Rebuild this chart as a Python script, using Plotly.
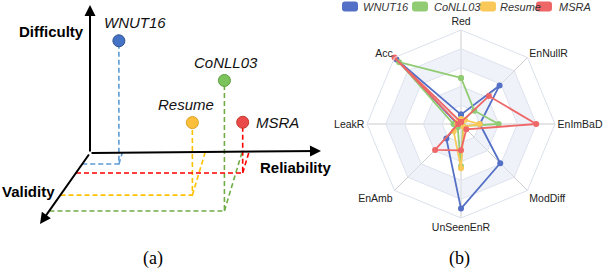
import plotly.graph_objects as go

# ---------------- data ----------------
datasets = ["WNUT16", "CoNLL03", "Resume", "MSRA"]

# panel (a): normalised scores along the three drawn axes
reliability = [0.14, 0.66, 0.50, 0.69]
validity = [0.16, 0.84, 0.61, 0.29]
difficulty = [0.85, 0.90, 0.50, 0.35]

# panel (b): radar metrics
categories = ["Red", "EnNullR", "EnImBaD", "ModDiff", "UnSeenEnR", "EnAmb", "LeakR", "Acc"]
wnut16 = [0.10, 0.58, 0.20, 0.59, 0.90, 0.22, 0.04, 0.97]
conll03 = [0.49, 0.20, 0.40, 0.03, 0.45, 0.05, 0.08, 0.93]
resume = [0.05, 0.06, 0.20, 0.04, 0.47, 0.11, 0.04, 0.04]
msra = [0.02, 0.42, 0.80, 0.08, 0.28, 0.39, 0.03, 1.00]
radar_values = [wnut16, conll03, resume, msra]

# ---------------- styles ----------------
W, H = 610, 272
FONT = "Liberation Sans, Arial, sans-serif"
radar_colors = ["#5470c6", "#91cc75", "#fac858", "#ee6666"]
dash_colors = ["#5b9bd5", "#70ad47", "#ffc000", "#ff0000"]
dot_fill = ["#4472c4", "#7dc35b", "#fbbf3c", "#ea4a4a"]
dot_edge = ["#2f528f", "#5c9e3f", "#d9a01f", "#c0392b"]

# projection of panel (a) (pixel canvas)
OX, OY = 90, 153
LR, LV, LD = 230, 69, 145
SHEAR, VAX = 0.3, 0.7

fig = go.Figure()

# ---------------- panel (a) ----------------
label_pos = [  # (dx, dy, xanchor)
    (16, -18, "center"),
    (2, -18, "center"),
    (-6, -18, "center"),
    (11, 0, "left"),
]
for i, name in enumerate(datasets):
    R, V, D = reliability[i], validity[i], difficulty[i]
    fx = OX + R * LR - SHEAR * V * LV
    fy = OY + V * LV
    py = fy - D * LD
    vx = OX - VAX * V * LV
    rx = OX + R * LR
    fig.add_trace(go.Scatter(
        x=[vx, fx, fx, None, fx, rx], y=[fy, fy, py, None, fy, OY],
        mode="lines", line=dict(color=dash_colors[i], width=1.6, dash="5px,3px"),
        showlegend=False, hoverinfo="skip"))
    fig.add_trace(go.Scatter(
        x=[fx], y=[py], mode="markers",
        marker=dict(size=12, color=dot_fill[i], line=dict(color=dot_edge[i], width=1)),
        showlegend=False, hoverinfo="skip"))
    dx, dy, xa = label_pos[i]
    fig.add_annotation(x=fx + dx, y=py + dy, text=name, showarrow=False,
                       xanchor=xa, yanchor="middle",
                       font=dict(family=FONT, size=15, color="#111", style="italic"),
                       xref="x", yref="y")

# axes of panel (a) as arrows
for (tx, ty) in [(OX, 5), (321, 151), (40, 224)]:
    fig.add_annotation(x=tx, y=ty, ax=OX, ay=OY, xref="x", yref="y", axref="x", ayref="y",
                       text="", showarrow=True, arrowhead=2, arrowsize=1.1,
                       arrowwidth=2, arrowcolor="#000")
for txt, x, y, xa in [("Difficulty", 17, 31, "left"), ("Reliability", 258, 167, "left"),
                      ("Validity", 0, 191, "left")]:
    fig.add_annotation(x=x, y=y, text="<b>" + txt + "</b>", showarrow=False, xanchor=xa,
                       yanchor="middle", font=dict(family=FONT, size=15, color="#000"))

for txt, x in [("(a)", 153), ("(b)", 459.5)]:
    fig.add_annotation(x=x, y=258, text=txt, showarrow=False, xanchor="center", yanchor="middle",
                       font=dict(family="Liberation Serif, Times New Roman, serif", size=18, color="#000"))

# ---------------- legend of panel (b) ----------------
leg_rect_x = [342, 412, 480, 536]
leg_text_x = [361, 432, 498, 557]
for i, name in enumerate(datasets):
    x0, x1, y0, y1, r = leg_rect_x[i], leg_rect_x[i] + 16, 1.5, 11.5, 3
    path = (f"M{x0+r},{y0} L{x1-r},{y0} Q{x1},{y0} {x1},{y0+r} L{x1},{y1-r} Q{x1},{y1} {x1-r},{y1} "
            f"L{x0+r},{y1} Q{x0},{y1} {x0},{y1-r} L{x0},{y0+r} Q{x0},{y0} {x0+r},{y0} Z")
    fig.add_shape(type="path", path=path, xref="x", yref="y",
                  fillcolor=radar_colors[i], line=dict(width=0))
    fig.add_annotation(x=leg_text_x[i], y=6.8, text=name, showarrow=False, xanchor="left",
                       yanchor="middle", font=dict(family=FONT, size=11, color="#333", style="italic"))

# ---------------- panel (b) radar ----------------
theta_closed = categories + [categories[0]]
levels = [0.2, 0.4, 0.6, 0.8, 1.0]
for lo, hi in [(0.2, 0.4), (0.6, 0.8)]:
    fig.add_trace(go.Scatterpolar(
        r=[hi] * len(theta_closed) + [lo] * len(theta_closed),
        theta=theta_closed + theta_closed[::-1],
        mode="lines", fill="toself", fillcolor="rgba(226,232,244,0.55)",
        line=dict(width=0), showlegend=False, hoverinfo="skip"))

for i, name in enumerate(datasets):
    vals = radar_values[i]
    fig.add_trace(go.Scatterpolar(
        r=vals + [vals[0]], theta=theta_closed, mode="lines+markers", name=name,
        line=dict(color=radar_colors[i], width=1.8),
        marker=dict(size=6, color=radar_colors[i]),
        showlegend=False))

cx, cy, rad = 461, 124, 94
fig.update_layout(
    width=W, height=H, margin=dict(l=0, r=0, t=0, b=0),
    paper_bgcolor="white", plot_bgcolor="rgba(0,0,0,0)",
    xaxis=dict(range=[0, W], domain=[0, 1], visible=False, fixedrange=True),
    yaxis=dict(range=[H, 0], domain=[0, 1], visible=False, fixedrange=True),
    polar=dict(
        domain=dict(x=[(cx - rad) / W, (cx + rad) / W], y=[1 - (cy + rad) / H, 1 - (cy - rad) / H]),
        bgcolor="rgba(0,0,0,0)",
        gridshape="linear",
        angularaxis=dict(rotation=90, direction="clockwise", categoryorder="array",
                         categoryarray=categories, showline=True, linecolor="#dbe1ec", linewidth=1,
                         gridcolor="#cccccc", gridwidth=1, ticks="",
                         tickfont=dict(family=FONT, size=10.5, color="#222")),
        radialaxis=dict(range=[0, 1], tickvals=levels, showticklabels=False, ticks="",
                        showline=False, gridcolor="#dbe1ec", gridwidth=1),
    ),
    showlegend=False,
)

fig.write_html("out.html", config={"displayModeBar": False},
               post_script="document.body.style.margin='0px';document.body.style.padding='0px';")
